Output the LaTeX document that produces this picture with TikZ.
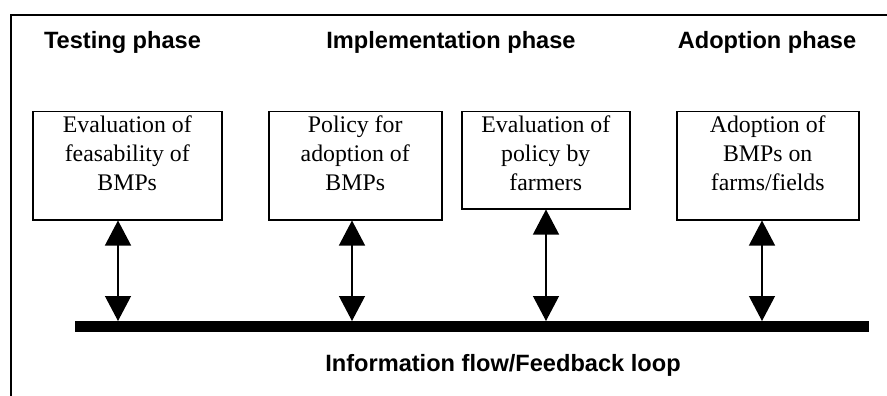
\documentclass[tikz,border=0pt]{standalone}
\usepackage{fontspec}
\setmainfont{Liberation Serif}
\newfontfamily\headfont{Liberation Sans}
\usetikzlibrary{arrows.meta}
\begin{document}
\begin{tikzpicture}[x=1pt,y=-1pt,
  phase/.style={font=\headfont\bfseries\fontsize{23.6}{28}\selectfont, anchor=base, inner sep=0pt},
  stagebox/.style={draw, line width=1.5pt, anchor=north west, inner sep=0pt},
  boxtext/.style={font=\fontsize{23.8}{29}\selectfont, align=center, anchor=north, inner sep=0pt},
  link/.style={line width=1.2pt, {Triangle[length=25pt,width=26pt]}-{Triangle[length=25pt,width=26pt]}}
]
\useasboundingbox (0,0) rectangle (887,396);
% outer frame (cropped at right and bottom)
\draw[line width=1.5pt] (11,400) -- (11,15) -- (890,15);

% phase headings
\node[phase] (h1) at (122.5,49) {Testing phase};
\node[phase] (h2) at (451,49) {Implementation phase};
\node[phase] (h3) at (767,49) {Adoption phase};

% boxes
\node[stagebox, minimum width=189pt, minimum height=108pt] (s1) at (32,111) {};
\node[stagebox, minimum width=173pt, minimum height=108pt] (s2) at (268,111) {};
\node[stagebox, minimum width=168pt, minimum height=97pt] (s3) at (461,111) {};
\node[stagebox, minimum width=182pt, minimum height=108pt] (s4) at (676,111) {};

\node[boxtext] (t1) at ([yshift=-5pt]s1.north) {Evaluation of\\feasability of\\BMPs};
\node[boxtext] (t2) at ([yshift=-5pt]s2.north) {Policy for\\adoption of\\BMPs};
\node[boxtext] (t3) at ([yshift=-5pt]s3.north) {Evaluation of\\policy by\\farmers};
\node[boxtext] (t4) at ([yshift=-5pt]s4.north) {Adoption of\\BMPs on\\farms/fields};

% feedback bar
\coordinate (barL) at (75,326.5);
\coordinate (barR) at (869,326.5);
\draw[line width=11pt] (barL) -- (barR);
\node[phase] (foot) at (503,371) {Information flow/Feedback loop};

% bar attachment points
\coordinate (p1) at (118,321);
\coordinate (p2) at (352,321);
\coordinate (p3) at (546,321);
\coordinate (p4) at (762,321);

\draw[link] (s1.south -| p1) -- (p1);
\draw[link] (s2.south -| p2) -- (p2);
\draw[link] (s3.south -| p3) -- (p3);
\draw[link] (s4.south -| p4) -- (p4);
\end{tikzpicture}
\end{document}
